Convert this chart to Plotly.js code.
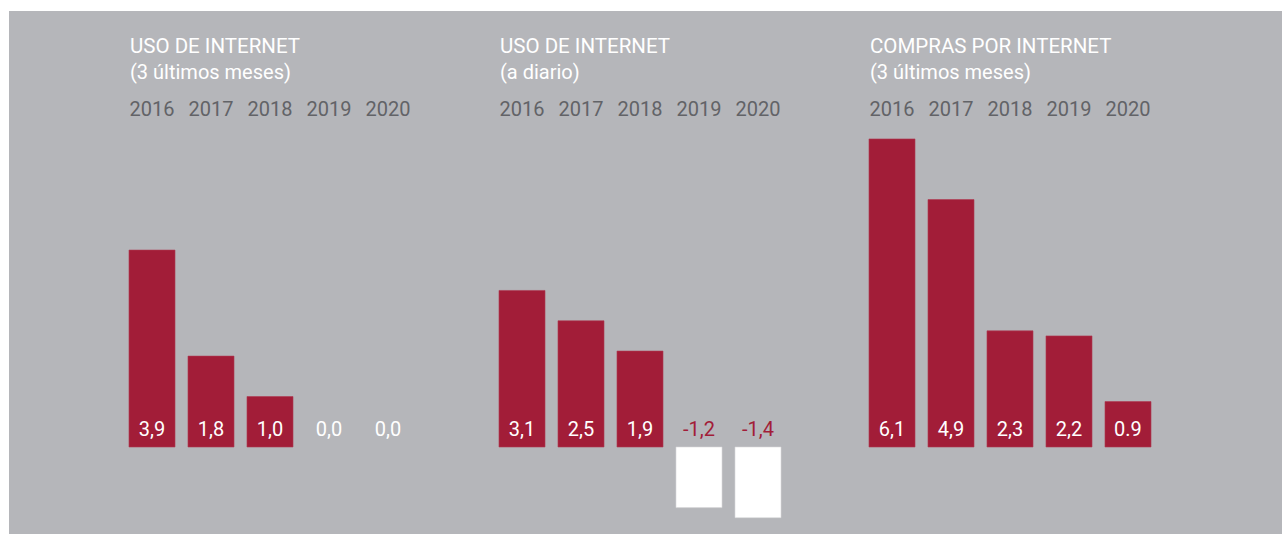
<!DOCTYPE html>
<html>
<head>
<meta charset="utf-8">
<script src="https://cdn.plot.ly/plotly-3.0.1.min.js"></script>
<style>html,body{margin:0;padding:0;background:#fff;}#chart{width:1282px;height:534px;}</style>
</head>
<body>
<div id="chart"></div>
<script>
// ---- data ----
const years = ["2016", "2017", "2018", "2019", "2020"];
const usoTresMeses = [3.9, 1.8, 1.0, 0.0, 0.0];
const usoDiario = [3.1, 2.5, 1.9, -1.2, -1.4];
const comprasTresMeses = [6.1, 4.9, 2.3, 2.2, 0.9];
const labelsUsoTresMeses = ["3,9", "1,8", "1,0", "0,0", "0,0"];
const labelsUsoDiario = ["3,1", "2,5", "1,9", "-1,2", "-1,4"];
const labelsCompras = ["6,1", "4,9", "2,3", "2,2", "0.9"];
const panelTitles = ["USO DE INTERNET", "USO DE INTERNET", "COMPRAS POR INTERNET"];
const panelSubtitles = ["(3 últimos meses)", "(a diario)", "(3 últimos meses)"];

// ---- style ----
const W = 1282, H = 534;
const RED = "#a21d38", GRAY_BG = "#b5b6ba", YEAR_GRAY = "#626367";
const baselinePx = 447, pxPerUnit = 50.5;
const yRange = [-(H - baselinePx) / pxPerUnit, baselinePx / pxPerUnit];
const labelOffset = 16 / pxPerUnit;

const panels = [
  {vals: usoTresMeses, labels: labelsUsoTresMeses, left: 122.5},
  {vals: usoDiario, labels: labelsUsoDiario, left: 492.5},
  {vals: comprasTresMeses, labels: labelsCompras, left: 862.5}
];
const panelWidth = 295;

const traces = [];
const layout = {
  width: W, height: H,
  margin: {l: 0, r: 0, t: 0, b: 0},
  paper_bgcolor: "#ffffff",
  plot_bgcolor: "rgba(0,0,0,0)",
  showlegend: false,
  bargap: 0.22,
  hovermode: false,
  yaxis: {range: yRange, visible: false, fixedrange: true},
  shapes: [{type: "rect", xref: "paper", yref: "paper", x0: 9 / W, x1: 1, y0: 0, y1: 1 - 11 / H,
            fillcolor: GRAY_BG, line: {width: 0}, layer: "below"}],
  annotations: []
};

panels.forEach((p, i) => {
  const xa = i === 0 ? "x" : "x" + (i + 1);
  const xaKey = i === 0 ? "xaxis" : "xaxis" + (i + 1);
  traces.push({
    type: "bar", x: years, y: p.vals, xaxis: xa, yaxis: "y",
    marker: {color: p.vals.map(v => v < 0 ? "#ffffff" : RED),
             line: {color: p.vals.map(v => v < 0 ? "#d8d8da" : "#b03a52"),
                    width: p.vals.map(v => v === 0 ? 0 : 0.6)}},
    hoverinfo: "skip"
  });
  traces.push({
    type: "scatter", mode: "text", x: years, y: years.map(() => labelOffset),
    xaxis: xa, yaxis: "y", text: p.labels,
    textposition: "middle center",
    textfont: {family: "Roboto, 'Noto Sans', sans-serif", size: 20,
               color: p.vals.map(v => v < 0 ? RED : "#ffffff")},
    hoverinfo: "skip", cliponaxis: false
  });
  layout[xaKey] = {
    domain: [p.left / W, (p.left + panelWidth) / W],
    anchor: "free", position: 1 - 120 / H, side: "top",
    type: "category", showgrid: false, zeroline: false, showline: false, ticks: "",
    tickfont: {family: "Roboto, sans-serif", size: 20, color: YEAR_GRAY},
    fixedrange: true
  };
  layout.annotations.push({
    xref: "paper", yref: "paper", x: (p.left + 5) / W, y: 1 - 46 / H,
    xanchor: "left", yanchor: "middle", showarrow: false,
    text: panelTitles[i],
    font: {family: "Roboto, sans-serif", size: 20.5, color: "#ffffff"}
  });
  layout.annotations.push({
    xref: "paper", yref: "paper", x: (p.left + 5) / W, y: 1 - 72 / H,
    xanchor: "left", yanchor: "middle", showarrow: false,
    text: panelSubtitles[i],
    font: {family: "Roboto, sans-serif", size: 20, color: "#ffffff"}
  });
});

Plotly.newPlot("chart", traces, layout, {displayModeBar: false, staticPlot: true});
</script>
</body>
</html>
